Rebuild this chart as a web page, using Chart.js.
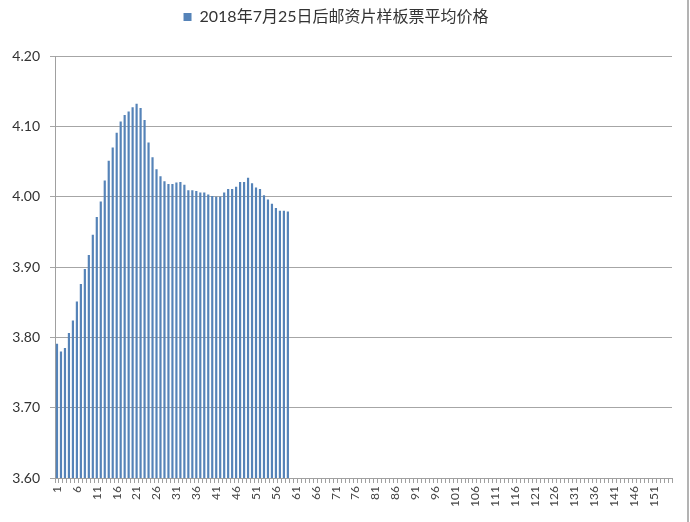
<!DOCTYPE html>
<html>
<head>
<meta charset="utf-8">
<script src="https://cdn.jsdelivr.net/npm/chart.js@4/dist/chart.umd.min.js"></script>
<style>
html,body{margin:0;padding:0;background:#fff;}
#wrap{width:690px;height:522px;position:relative;}
</style>
</head>
<body>
<div id="wrap"><canvas id="c" width="690" height="522"></canvas></div>
<script>
const seriesName = "2018年7月25日后邮资片样板票平均价格";
const categoryCount = 155;
const categories = Array.from({length: categoryCount}, (_, i) => String(i + 1));
const prices = [
  3.791, 3.780, 3.785, 3.806, 3.824, 3.851, 3.876, 3.897, 3.917, 3.946,
  3.971, 3.993, 4.023, 4.051, 4.070, 4.091, 4.107, 4.116, 4.121, 4.127,
  4.132, 4.126, 4.109, 4.077, 4.056, 4.039, 4.029, 4.022, 4.018, 4.018,
  4.020, 4.021, 4.017, 4.009, 4.009, 4.008, 4.006, 4.006, 4.003, 4.001,
  4.000, 4.000, 4.006, 4.011, 4.011, 4.014, 4.021, 4.021, 4.027, 4.019,
  4.013, 4.011, 4.002, 3.996, 3.990, 3.984, 3.980, 3.980, 3.979
];
const yTicks = [3.60, 3.70, 3.80, 3.90, 4.00, 4.10, 4.20];

const data = categories.map((c, i) => i < prices.length ? prices[i] : null);

const borderPlugin = {
  id: 'rightBorder',
  afterDraw(chart) {
    const ctx = chart.ctx;
    ctx.save();
    ctx.strokeStyle = '#9a9a9a';
    ctx.lineWidth = 1.5;
    ctx.beginPath();
    ctx.moveTo(688, 0);
    ctx.lineTo(688, 522);
    ctx.stroke();
    ctx.restore();
  }
};

const legendSpace = {
  id: 'legendSpace',
  beforeInit(chart) {
    const origFit = chart.legend.fit;
    chart.legend.fit = function() {
      origFit.bind(chart.legend)();
      this.height += 21;
    };
  }
};

new Chart(document.getElementById('c'), {
  type: 'bar',
  data: {
    labels: categories,
    datasets: [{
      label: seriesName,
      data: data,
      backgroundColor: '#5583b8',
      borderWidth: 0,
      barPercentage: 0.55,
      categoryPercentage: 1.0
    }]
  },
  options: {
    responsive: false,
    animation: false,
    layout: { padding: { left: 0, right: 18, top: 0, bottom: 0 } },
    plugins: {
      legend: {
        display: true,
        position: 'top',
        labels: {
          boxWidth: 8,
          boxHeight: 8,
          padding: 9,
          color: '#333',
          font: { family: 'Lato, "Noto Sans CJK SC", sans-serif', size: 16 }
        }
      },
      tooltip: { enabled: false }
    },
    scales: {
      x: {
        offset: true,
        grid: {
          display: true,
          drawOnChartArea: false,
          drawTicks: true,
          tickLength: 5,
          color: '#a0a0a0',
          offset: true
        },
        border: { display: true, color: '#a0a0a0', width: 1 },
        ticks: {
          autoSkip: false,
          maxRotation: 90,
          minRotation: 90,
          padding: 3,
          color: '#444',
          font: { family: 'Lato, sans-serif', size: 12 },
          callback: function(v, i) { return (i % 5 === 0) ? categories[i] : ''; }
        },
        afterFit: function(s) { s.height = 44; }
      },
      y: {
        min: 3.6,
        max: 4.2,
        afterBuildTicks: function(s) { s.ticks = yTicks.map(v => ({ value: v })); },
        grid: {
          color: '#a6a6a6',
          lineWidth: 1,
          drawTicks: true,
          tickLength: 5
        },
        border: { display: true, color: '#a0a0a0', width: 1 },
        ticks: {
          color: '#333',
          padding: 10,
          font: { family: 'Lato, sans-serif', size: 14 },
          callback: function(v) { return Number(v).toFixed(2); }
        },
        afterFit: function(s) { s.width = 55; }
      }
    }
  },
  plugins: [borderPlugin, legendSpace]
});
</script>
</body>
</html>
